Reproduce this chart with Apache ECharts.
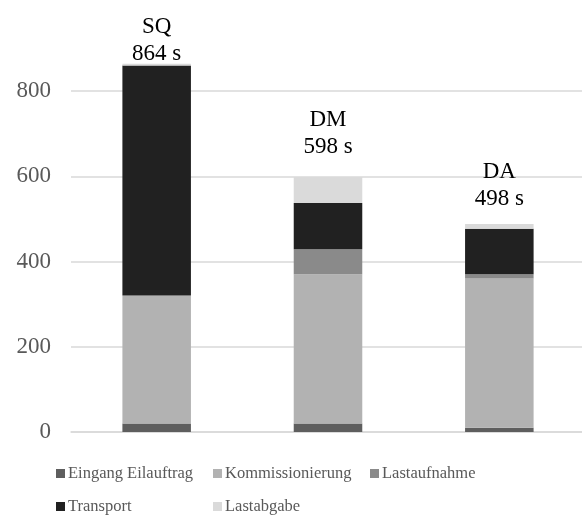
<!DOCTYPE html>
<html>
<head>
<meta charset="utf-8">
<script src="https://cdn.jsdelivr.net/npm/echarts@6/dist/echarts.min.js"></script>
<style>
  html, body { margin: 0; padding: 0; background: #fff; }
  #chart { width: 582px; height: 516px; }
</style>
</head>
<body>
<div id="chart"></div>
<script>
const categories = ['SQ', 'DM', 'DA'];
const totalLabels = ['864 s', '598 s', '498 s'];
const eingang = [20, 20, 10];
const kommissionierung = [300, 350, 350];
const lastaufnahme = [0, 59, 10];
const transport = [540, 108, 107];
const lastabgabe = [4, 61, 11];
const yTicks = [0, 200, 400, 600, 800];

// gap between the top label and the bar, per bar
const labelGap = [-4, 17, 12];

const font = '"Liberation Serif", "Times New Roman", serif';

const seriesDefs = [
    { name: 'Eingang Eilauftrag', data: eingang, color: '#5e5e5e' },
    { name: 'Kommissionierung', data: kommissionierung, color: '#b2b2b2' },
    { name: 'Lastaufnahme', data: lastaufnahme, color: '#8a8a8a' },
    { name: 'Transport', data: transport, color: '#212121' },
    { name: 'Lastabgabe', data: lastabgabe, color: '#dadada' },
];

const series = seriesDefs.map((s, i) => {
    const last = i === seriesDefs.length - 1;
    return {
        name: s.name,
        type: 'bar',
        stack: 'total',
        barWidth: '40%',
        clip: false,
        itemStyle: { color: s.color },
        data: s.data.map((v, j) => {
            const item = { value: v };
            if (last) {
                item.label = {
                    show: true,
                    position: 'top',
                    distance: labelGap[j],
                    formatter: categories[j] + '\n' + totalLabels[j],
                    fontFamily: font,
                    fontSize: 23,
                    lineHeight: 27,
                    color: '#000',
                };
            }
            return item;
        }),
    };
});

const chart = echarts.init(document.getElementById('chart'), null, { renderer: 'canvas' });
chart.setOption({
    animation: false,
    grid: { left: 71, right: -3, top: 91, bottom: 84, outerBoundsMode: 'none' },
    legend: {
        data: seriesDefs.map(s => s.name),
        left: 51,
        top: 456,
        width: 480,
        itemWidth: 9,
        itemHeight: 9,
        itemGap: 8,
        icon: 'rect',
        textStyle: {
            fontFamily: font,
            fontSize: 16.5,
            color: '#595959',
            width: 137,
            lineHeight: 25,
            padding: [0, 0, 0, -2],
        },
    },
    xAxis: {
        type: 'category',
        data: categories,
        axisLine: { lineStyle: { color: '#d9d9d9', width: 1.5 } },
        axisTick: { show: false },
        axisLabel: { show: false },
    },
    yAxis: {
        type: 'value',
        min: yTicks[0],
        max: yTicks[yTicks.length - 1],
        interval: yTicks[1] - yTicks[0],
        axisLine: { show: false },
        axisTick: { show: false },
        axisLabel: {
            fontFamily: font,
            fontSize: 23,
            color: '#595959',
            margin: 20,
        },
        splitLine: { lineStyle: { color: '#d9d9d9', width: 1.5 } },
    },
    series: series,
});
</script>
</body>
</html>
